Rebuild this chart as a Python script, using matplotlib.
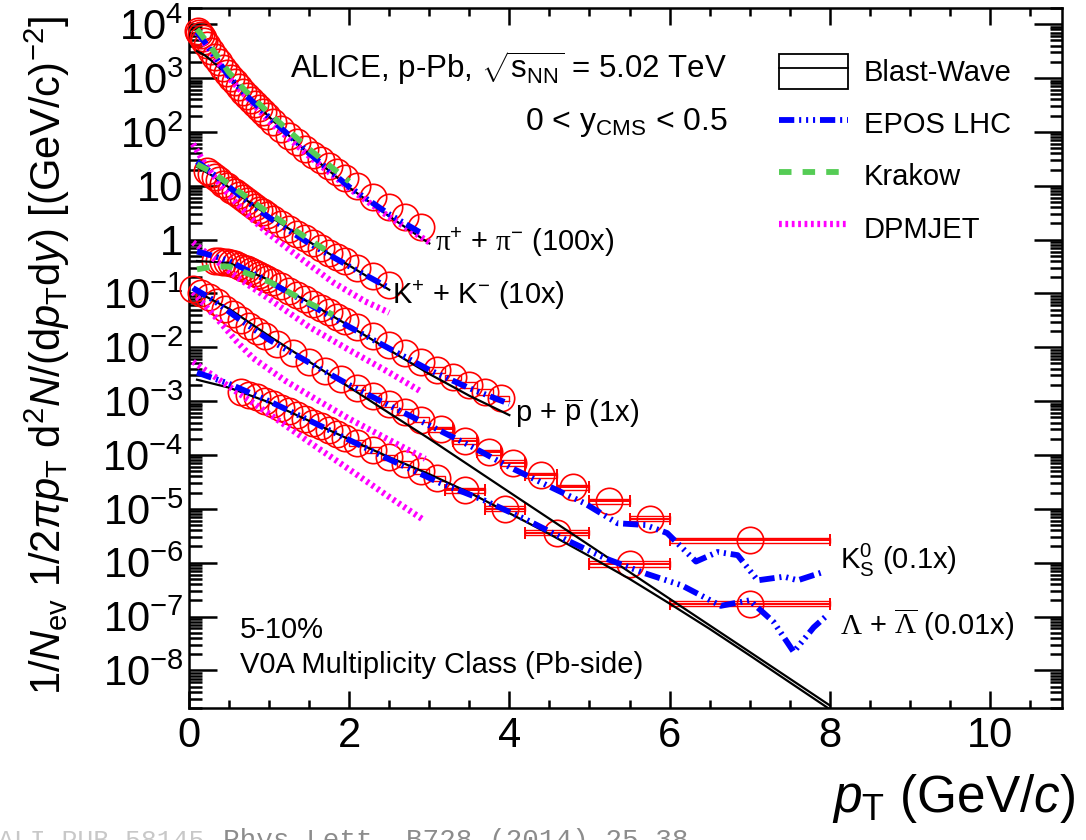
import numpy as np
import matplotlib
matplotlib.use('Agg')
import matplotlib.pyplot as plt
from matplotlib.lines import Line2D
from matplotlib.patches import Rectangle
from matplotlib.legend_handler import HandlerTuple
from matplotlib.ticker import LogLocator, MultipleLocator, FuncFormatter, NullFormatter

plt.rcParams['font.family'] = ['Liberation Sans', 'DejaVu Sans']
plt.rcParams['mathtext.fontset'] = 'custom'
plt.rcParams['mathtext.rm'] = 'Liberation Sans'
plt.rcParams['mathtext.it'] = 'Liberation Sans:italic'
plt.rcParams['mathtext.sf'] = 'Liberation Serif'
plt.rcParams['lines.scale_dashes'] = False

# measured spectra, already scaled as written in the labels
pi_pt = [0.11, 0.13, 0.15, 0.17, 0.19, 0.225, 0.275, 0.325, 0.375, 0.425, 0.475, 0.525,
         0.575, 0.625, 0.675, 0.725, 0.775, 0.825, 0.875, 0.925, 0.975, 1.05, 1.15, 1.25,
         1.35, 1.45, 1.55, 1.65, 1.75, 1.85, 1.95, 2.1, 2.3, 2.5, 2.7, 2.9]
pi_y = [7600, 6900, 6200, 5500, 4900, 4100, 3160, 2450, 1950, 1550, 1260, 1020,
        830, 680, 560, 470, 390, 325, 275, 235, 200, 155, 115, 85,
        65, 49, 38, 29.5, 23, 17.8, 13.8, 10.0, 6.3, 4.0, 2.6, 1.74]

k_pt = [0.225, 0.275, 0.325, 0.375, 0.425, 0.475, 0.525, 0.575, 0.625, 0.675, 0.725, 0.775,
        0.825, 0.875, 0.925, 0.975, 1.05, 1.15, 1.25, 1.35, 1.45, 1.55, 1.65, 1.75,
        1.85, 1.95, 2.1, 2.3, 2.5]
k_y = [19.1, 16.6, 14.5, 12.6, 11.0, 9.8, 8.5, 7.6, 6.6, 5.9, 5.1, 4.6,
       4.1, 3.6, 3.2, 2.9, 2.45, 1.95, 1.58, 1.29, 1.05, 0.85, 0.71, 0.575,
       0.48, 0.40, 0.30, 0.21, 0.145]

p_pt = [0.325, 0.375, 0.425, 0.475, 0.525, 0.575, 0.625, 0.675, 0.725, 0.775, 0.825, 0.875,
        0.925, 0.975, 1.05, 1.15, 1.25, 1.35, 1.45, 1.55, 1.65, 1.75, 1.85, 1.95,
        2.1, 2.3, 2.5, 2.7, 2.9, 3.1, 3.3, 3.5, 3.7, 3.9]
p_y = [0.398, 0.398, 0.389, 0.380, 0.363, 0.347, 0.324, 0.302, 0.282, 0.263, 0.240, 0.224,
       0.204, 0.186, 0.162, 0.135, 0.112, 0.093, 0.078, 0.065, 0.054, 0.045, 0.037, 0.031,
       0.0234, 0.0162, 0.0112, 0.0078, 0.0054, 0.0038, 0.00275, 0.0020, 0.00148, 0.00112]
p_dx = [0.025] * 14 + [0.05] * 10 + [0.1] * 10

k0s_pt = [0.05, 0.15, 0.25, 0.35, 0.45, 0.55, 0.65, 0.75, 0.85, 0.95,
          1.1, 1.3, 1.5, 1.7, 1.9, 2.1, 2.3, 2.5, 2.7, 2.9,
          3.15, 3.45, 3.75, 4.05, 4.4, 4.8, 5.25, 5.75, 7.0]
k0s_y = [0.120, 0.102, 0.085, 0.068, 0.052, 0.041, 0.0316, 0.0251, 0.0200, 0.0162,
         0.0117, 0.0079, 0.0054, 0.0037, 0.0026, 0.00178, 0.00126, 0.00089, 0.00063, 0.00045,
         3.0e-4, 1.82e-4, 1.12e-4, 7.1e-5, 4.2e-5, 2.5e-5, 1.38e-5, 6.6e-6, 2.6e-6]
k0s_dx = [0.05] * 10 + [0.1] * 10 + [0.15, 0.15, 0.15, 0.15, 0.2, 0.2, 0.25, 0.25, 1.0]

lam_pt = [0.65, 0.75, 0.85, 0.95, 1.05, 1.15, 1.25, 1.35, 1.45, 1.55, 1.65, 1.75, 1.85, 1.95,
          2.1, 2.3, 2.5, 2.7, 2.9, 3.1, 3.45, 3.95, 4.6, 5.5, 7.0]
lam_y = [1.45e-3, 1.32e-3, 1.17e-3, 1.02e-3, 8.9e-4, 7.6e-4, 6.5e-4, 5.5e-4, 4.7e-4, 4.0e-4,
         3.4e-4, 2.9e-4, 2.45e-4, 2.1e-4, 1.66e-4, 1.23e-4, 9.1e-5, 6.8e-5, 5.0e-5, 3.7e-5,
         2.2e-5, 1.0e-5, 3.6e-6, 9.5e-7, 1.74e-7]
lam_dx = [0.05] * 14 + [0.1] * 6 + [0.25, 0.25, 0.4, 0.5, 1.0]

# model curves
pi_bw_pt = [0.1, 0.2, 0.3, 0.4, 0.5, 0.7, 1.0, 1.3, 1.6, 2.0, 2.5, 3.0]
pi_bw = [3160, 2630, 2000, 1450, 1050, 540, 190, 72, 29, 9.3, 2.7, 0.85]
pi_epos_pt = [0.1, 0.2, 0.3, 0.5, 0.7, 1.0, 1.5, 2.0, 2.5, 2.9]
pi_epos = [7240, 4570, 2820, 1070, 500, 186, 40, 9.5, 2.95, 1.32]
pi_krakow_pt = [0.1, 0.2, 0.3, 0.5, 0.7, 1.0, 1.5, 2.0]
pi_krakow = [8100, 5200, 3300, 1260, 590, 222, 48, 12.0]
pi_dpm_pt = [0.1, 0.3, 0.5, 1.0, 1.5, 2.0, 2.5, 3.0]
pi_dpm = [7080, 2630, 1000, 158, 35.5, 8.9, 2.63, 0.89]

k_bw_pt = [0.1, 0.3, 0.5, 0.8, 1.0, 1.5, 2.0, 2.5]
k_bw = [22.4, 15.1, 9.3, 4.4, 2.75, 0.91, 0.33, 0.117]
k_epos_pt = [0.1, 0.3, 0.5, 0.8, 1.0, 1.5, 2.0, 2.5]
k_epos = [28.2, 16.6, 9.5, 4.2, 2.57, 0.85, 0.32, 0.126]
k_krakow_pt = [0.1, 0.3, 0.5, 0.8, 1.0, 1.5, 1.8]
k_krakow = [25, 17.4, 10.7, 5.0, 3.1, 1.0, 0.52]
k_dpm_pt = [0.05, 0.2, 0.4, 0.6, 0.8, 1.0, 1.4, 1.8, 2.2, 2.5]
k_dpm = [60, 25, 10, 4.6, 2.3, 1.26, 0.44, 0.16, 0.071, 0.044]

p_bw_pt = [0.1, 0.5, 1.0, 1.5, 2.0, 2.5, 3.0, 3.5, 4.0]
p_bw = [0.40, 0.37, 0.178, 0.068, 0.025, 0.0089, 0.0032, 0.00126, 0.00055]
p_epos_pt = [0.1, 0.3, 0.5, 1.0, 1.5, 2.0, 2.5, 3.0, 3.5, 4.0]
p_epos = [0.60, 0.50, 0.40, 0.166, 0.063, 0.024, 0.0095, 0.0038, 0.00174, 0.00089]
p_krakow_pt = [0.1, 0.3, 0.5, 1.0, 1.5, 1.8]
p_krakow = [0.28, 0.316, 0.316, 0.166, 0.066, 0.040]
p_dpm_pt = [0.05, 0.3, 0.6, 1.0, 1.5, 2.0, 2.5, 2.9]
p_dpm = [0.89, 0.45, 0.20, 0.079, 0.024, 0.0089, 0.0034, 0.0015]

k0s_bw_pt = [0.05, 0.5, 1.0, 1.5, 2.0, 2.5, 3.0, 4.0, 5.0, 6.0, 7.0, 8.0]
k0s_bw = [0.117, 0.052, 0.0162, 0.0054, 0.00182, 6.0e-4, 2.0e-4, 2.04e-5, 2.1e-6, 2.14e-7,
          2.2e-8, 2.24e-9]
k0s_epos_pt = [0.05, 0.3, 0.6, 1.0, 1.5, 2.0, 2.5, 3.0, 3.5, 4.0, 4.5, 4.93, 5.35, 5.7,
               5.97, 6.33, 6.6, 6.85, 7.1, 7.43, 7.6, 7.93]
k0s_epos = [0.126, 0.076, 0.0355, 0.0138, 0.0052, 0.0020, 8.3e-4, 3.55e-4, 1.51e-4, 6.0e-5,
            2.6e-5, 1.29e-5, 5.4e-6, 5.0e-6, 3.55e-6, 1.05e-6, 1.58e-6, 1.38e-6, 4.7e-7,
            5.5e-7, 4.7e-7, 6.8e-7]
k0s_dpm_pt = [0.05, 0.2, 0.4, 0.6, 0.8, 1.2, 1.6, 2.0, 2.5, 2.95]
k0s_dpm = [0.105, 0.060, 0.028, 0.0126, 0.0063, 0.0024, 0.00105, 4.7e-4, 1.9e-4, 8.5e-5]

lam_bw_pt = [0.1, 0.5, 1.0, 1.5, 2.0, 2.5, 3.0, 3.5, 4.0, 4.5, 5.0, 5.5, 6.0, 6.5, 7.0, 7.5, 8.0]
lam_bw = [2.5e-3, 1.78e-3, 9.5e-4, 4.3e-4, 1.95e-4, 9.1e-5, 4.4e-5, 2.0e-5, 8.3e-6, 3.4e-6,
          1.32e-6, 5.0e-7, 1.74e-7, 5.9e-8, 1.9e-8, 6.0e-9, 1.9e-9]
lam_epos_pt = [0.1, 0.5, 1.0, 1.5, 2.0, 2.5, 3.14, 3.68, 4.22, 4.72, 5.2, 5.7, 6.15, 6.64,
               7.0, 7.3, 7.55, 7.8, 7.95]
lam_epos = [3.4e-3, 2.1e-3, 1.0e-3, 4.4e-4, 1.9e-4, 8.3e-5, 3.0e-5, 1.45e-5, 6.2e-6, 2.6e-6,
            1.2e-6, 6.3e-7, 3.8e-7, 1.58e-7, 2.0e-7, 7.9e-8, 2.2e-8, 6.3e-8, 1.0e-7]
lam_dpm_pt = [0.05, 0.5, 1.0, 1.5, 2.0, 2.5, 2.93]
lam_dpm = [5.4e-3, 1.86e-3, 5.8e-4, 1.74e-4, 5.4e-5, 1.66e-5, 6.2e-6]

RED = '#ff0000'
BW = dict(color='black', lw=1.6)
EPOS = dict(color='#0000ff', lw=4.2, ls=(0, (11, 3.5, 1.5, 3.5, 1.5, 3.5, 1.5, 3.5)))
KRAKOW = dict(color='#55cc55', lw=4.2, ls=(0, (9, 8)))
DPM = dict(color='#ff00ff', lw=4.5, ls=(0, (2, 2.6)))

fig = plt.figure(figsize=(10.86, 8.4), dpi=100)
ax = fig.add_axes([189 / 1086, 132 / 840, 873 / 1086, 700 / 840])
ax.set_yscale('log')
ax.set_xlim(0, 10.9)
ax.set_ylim(2e-9, 2e4)


def spectrum(pt, y, dx=None, box_from=99.0):
    ax.plot(pt, y, 'o', ms=19, mfc='none', mec=RED, mew=1.2, clip_on=False, zorder=3)
    if dx is None:
        return
    for x, v, d in zip(pt, y, dx):
        if x >= box_from:
            ax.add_patch(Rectangle((x - d, v / 1.12), 2 * d, v * 1.12 - v / 1.12,
                                   fill=False, ec=RED, lw=1.0, zorder=3))
        if d >= 0.15:
            ax.errorbar([x], [v], xerr=[d], fmt='none', ecolor=RED, elinewidth=1.4,
                        capsize=4, capthick=1.4, zorder=3)


spectrum(pi_pt, pi_y)
spectrum(k_pt, k_y)
spectrum(p_pt, p_y, p_dx, box_from=3.0)
spectrum(k0s_pt, k0s_y, k0s_dx, box_from=2.0)
spectrum(lam_pt, lam_y, lam_dx, box_from=2.0)

for x, y in [(pi_bw_pt, pi_bw), (k_bw_pt, k_bw), (p_bw_pt, p_bw), (k0s_bw_pt, k0s_bw), (lam_bw_pt, lam_bw)]:
    ax.plot(x, y, zorder=4, **BW)
for x, y in [(pi_dpm_pt, pi_dpm), (k_dpm_pt, k_dpm), (p_dpm_pt, p_dpm), (k0s_dpm_pt, k0s_dpm), (lam_dpm_pt, lam_dpm)]:
    ax.plot(x, y, zorder=4, **DPM)
for x, y in [(pi_epos_pt, pi_epos), (k_epos_pt, k_epos), (p_epos_pt, p_epos), (k0s_epos_pt, k0s_epos), (lam_epos_pt, lam_epos)]:
    ax.plot(x, y, zorder=5, **EPOS)
for x, y in [(pi_krakow_pt, pi_krakow), (k_krakow_pt, k_krakow), (p_krakow_pt, p_krakow)]:
    ax.plot(x, y, zorder=6, **KRAKOW)

# axes: ROOT-like inward ticks on all sides
for s in ax.spines.values():
    s.set_linewidth(1.8)
ax.xaxis.set_major_locator(MultipleLocator(2))
ax.xaxis.set_minor_locator(MultipleLocator(0.5))
ax.yaxis.set_major_locator(LogLocator(base=10, numticks=30))
ax.yaxis.set_minor_locator(LogLocator(base=10, subs=np.arange(2, 10), numticks=30))
ax.yaxis.set_minor_formatter(NullFormatter())


def decade(v, pos):
    e = int(round(np.log10(v)))
    if e == 0:
        return '1'
    if e == 1:
        return '10'
    return r'$10^{%d}$' % e


ax.yaxis.set_major_formatter(FuncFormatter(decade))
ax.tick_params(which='both', direction='in', top=True, right=True, width=1.8, labelsize=30)
ax.tick_params(axis='y', which='major', length=20, pad=4)
ax.tick_params(axis='y', which='minor', length=9)
ax.tick_params(axis='x', which='major', length=12, pad=6)
ax.tick_params(axis='x', which='minor', length=6)

# labels
ax.text(0.116, 0.914, r'ALICE, p-Pb, $\sqrt{\mathrm{s}_{\mathrm{NN}}}$ = 5.02 TeV',
        transform=ax.transAxes, fontsize=22.5, va='center', ha='left')
ax.text(0.385, 0.837, r'0 < y$_{\mathrm{CMS}}$ < 0.5', transform=ax.transAxes,
        fontsize=23, va='center', ha='left')
ax.text(0.058, 0.111, '5-10%', transform=ax.transAxes, fontsize=21, va='center')
ax.text(0.058, 0.061, 'V0A Multiplicity Class (Pb-side)', transform=ax.transAxes,
        fontsize=21, va='center')

ax.text(0.282, 0.666, r'$\mathsf{\pi}^{+}$ + $\mathsf{\pi}^{-}$ (100x)', transform=ax.transAxes,
        fontsize=21, va='center')
ax.text(0.2325, 0.59, r'$\mathrm{K}^{+}$ + $\mathrm{K}^{-}$ (10x)', transform=ax.transAxes,
        fontsize=21, va='center')
ax.text(0.373, 0.421, r'p + $\overline{\mathrm{p}}$ (1x)', transform=ax.transAxes,
        fontsize=21, va='center')
ax.text(0.746, 0.211, r'$\mathrm{K}^{0}_{\mathrm{S}}$ (0.1x)', transform=ax.transAxes,
        fontsize=21, va='center')
ax.text(0.746, 0.119, r'$\mathsf{\Lambda}$ + $\overline{\mathsf{\Lambda}}$ (0.01x)',
        transform=ax.transAxes, fontsize=21, va='center')

bw_handle = (Rectangle((0, 0), 1, 1, fill=False, ec='black', lw=1.3),
             Line2D([], [], color='black', lw=1.3))
handles = [bw_handle, Line2D([], [], **EPOS), Line2D([], [], **KRAKOW), Line2D([], [], **DPM)]
ax.legend(handles, ['Blast-Wave', 'EPOS LHC', 'Krakow', 'DPMJET'],
          handler_map={tuple: HandlerTuple()}, loc='upper left',
          bbox_to_anchor=(0.676, 0.934), borderaxespad=0, borderpad=0, frameon=False,
          fontsize=21, handlelength=2.35, handleheight=1.45, handletextpad=0.55,
          labelspacing=0.6)

fig.text(0.044, 0.577,
         r'1/$N_{\mathrm{ev}}$ 1/2$\pi p_{\mathrm{T}}$ d$^{2}N$/(d$p_{\mathrm{T}}$d$y$) [(GeV/c)$^{-2}$]',
         rotation=90, ha='center', va='center', fontsize=30)
fig.text(0.99, 0.033, r'$p_{\mathrm{T}}$ (GeV/$c$)', ha='right', va='baseline', fontsize=37)

fig.text(-0.002, -0.010, 'ALI-PUB-58145', family='Liberation Mono', fontsize=19,
         color='#c8c8c8', va='baseline')
fig.text(223 / 1086, -0.010, 'Phys.Lett. B728 (2014) 25-38', family='Liberation Mono',
         fontsize=20, color='#8c8c8c', va='baseline')

fig.savefig('out.png', dpi=100)
